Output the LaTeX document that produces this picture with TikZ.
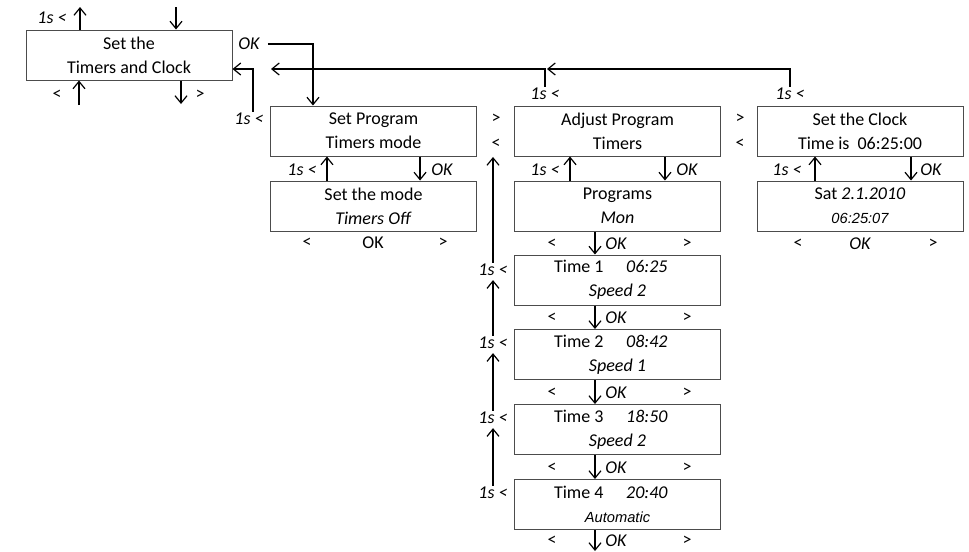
\documentclass[tikz,border=0pt]{standalone}
\usepackage{fontspec}
\setmainfont{Carlito}
\newfontfamily\arialfont{Liberation Sans}
\usetikzlibrary{arrows.meta, calc}

\tikzset{
	screen/.style = {draw=black!70, line width=0.75pt, minimum width=154.5pt, minimum height=37.5pt, inner sep=0pt, align=center, font=\fontsize{13.5}{18}\selectfont},
	btn/.style = {inner sep=1pt, font=\fontsize{13.5}{16}\selectfont},
	ibtn/.style = {inner sep=1pt, font=\fontsize{13.5}{16}\selectfont\itshape},
	arr/.style = {-{Straight Barb[length=5.5pt,width=9pt]}, line width=0.9pt},
}
\newcommand{\smallit}[1]{{\arialfont\itshape\fontsize{11}{18}\selectfont #1}}

\begin{document}
\begin{tikzpicture}[x=0.75pt, y=-0.75pt]
	\useasboundingbox (0,0) rectangle (969,551);

	\node[screen] (set) at (129,55) {Set the\\Timers and Clock};
	\node[screen] (prog) at (373.5,131) {Set Program\\Timers mode};
	\node[screen] (mode) at (373.5,206) {Set the mode\\\textit{Timers Off}};
	\node[screen] (adj) at (617.5,131) {Adjust Program\\Timers};
	\node[screen] (progs) at (617.5,206) {Programs\\\textit{Mon}};
	\node[screen] (t1) at (617.5,280) {Time 1\hspace{17pt}\textit{06:25}\hspace*{10pt}\\\textit{Speed 2}};
	\node[screen] (t2) at (617.5,354.5) {Time 2\hspace{17pt}\textit{08:42}\hspace*{10pt}\\\textit{Speed 1}};
	\node[screen] (t3) at (617.5,429.5) {Time 3\hspace{17pt}\textit{18:50}\hspace*{10pt}\\\textit{Speed 2}};
	\node[screen] (t4) at (617.5,504.5) {Time 4\hspace{17pt}\textit{20:40}\hspace*{10pt}\\\smallit{Automatic}};
	\node[screen] (clock) at (860,131) {Set the Clock\\Time is\ \ 06:25:00};
	\node[screen] (date) at (860,206) {Sat \textit{2.1.2010}\\\smallit{06:25:07}};

	\node[ibtn] (s0) at (52,18) {1s <};
	\node[btn] (l0) at (57,95) {<};
	\node[btn] (g0) at (200,95) {>};
	\node[ibtn] (ok0) at (249,44) {OK};
	\node[ibtn] (sp) at (249,119) {1s <};
	\node[ibtn] (sa) at (545,94) {1s <};
	\node[ibtn] (sc) at (790,94) {1s <};

	\node[btn] (g1) at (496,119) {>};
	\node[btn] (l1) at (496,144) {<};
	\node[btn] (g2) at (740,119) {>};
	\node[btn] (l2) at (740,144) {<};

	\node[ibtn] (sm) at (302,170) {1s <};
	\node[ibtn] (okm) at (442,170) {OK};
	\node[btn] (lm) at (307,243) {<};
	\node[btn] (okb) at (373,243) {OK};
	\node[btn] (gm) at (443,243) {>};

	\node[ibtn] (sg) at (545,170) {1s <};
	\node[ibtn] (okg) at (687,170) {OK};
	\node[btn] (lp) at (552,244) {<};
	\node[ibtn] (okp) at (616,244) {OK};
	\node[btn] (gp) at (687,244) {>};

	\node[ibtn] (s1) at (493,270) {1s <};
	\node[btn] (lt1) at (552,318) {<};
	\node[ibtn] (okt1) at (616,318) {OK};
	\node[btn] (gt1) at (687,318) {>};
	\node[ibtn] (s2) at (493,343) {1s <};
	\node[btn] (lt2) at (552,393) {<};
	\node[ibtn] (okt2) at (616,393) {OK};
	\node[btn] (gt2) at (687,393) {>};
	\node[ibtn] (s3) at (493,418) {1s <};
	\node[btn] (lt3) at (552,468) {<};
	\node[ibtn] (okt3) at (616,468) {OK};
	\node[btn] (gt3) at (687,468) {>};
	\node[ibtn] (s4) at (493,493) {1s <};
	\node[btn] (lt4) at (552,541) {<};
	\node[ibtn] (okt4) at (616,541) {OK};
	\node[btn] (gt4) at (687,541) {>};

	\node[ibtn] (sk) at (787,170) {1s <};
	\node[ibtn] (okk) at (931,170) {OK};
	\node[btn] (lk) at (798,244) {<};
	\node[ibtn] (okd) at (860,244) {OK};
	\node[btn] (gk) at (933,244) {>};

	\coordinate (u0) at (80,7);
	\coordinate (d0) at (176,7);
	\coordinate (u1) at (79,105);
	\coordinate (d1) at (181,104);
	\coordinate (j) at (547,69);
	\coordinate (e) at (271,69);
	\coordinate (d2) at (595,551);

	\draw[arr] (set.north -| u0) -- (u0);
	\draw[arr] (d0) -- (set.north -| d0);
	\draw[arr] (u1) -- (set.south -| u1);
	\draw[arr] (set.south -| d1) -- (d1);
	\draw[arr] ([xshift=5pt]ok0.east) -| ([xshift=-45.4pt]prog.north);
	\draw[arr] ([xshift=3pt]sp.north) |- ([yshift=-10.5pt]set.east);
	\draw[arr] (sc.north) |- (j);
	\draw[arr] (sa.north) |- (e);

	\draw[arr] ([xshift=-34.9pt]mode.north) -- ([xshift=-34.9pt]prog.south);
	\draw[arr] ([xshift=34.9pt]prog.south) -- ([xshift=34.9pt]mode.north);
	\draw[arr] ([xshift=-35.6pt]progs.north) -- ([xshift=-35.6pt]adj.south);
	\draw[arr] ([xshift=35.6pt]adj.south) -- ([xshift=35.6pt]progs.north);
	\draw[arr] ([xshift=-33.75pt]date.north) -- ([xshift=-33.75pt]clock.south);
	\draw[arr] ([xshift=38.25pt]clock.south) -- ([xshift=38.25pt]date.north);

	\draw[arr] ([xshift=-16.9pt]progs.south) -- ([xshift=-16.9pt]t1.north);
	\draw[arr] ([xshift=-16.9pt]t1.south) -- ([xshift=-16.9pt]t2.north);
	\draw[arr] ([xshift=-16.9pt]t2.south) -- ([xshift=-16.9pt]t3.north);
	\draw[arr] ([xshift=-16.9pt]t3.south) -- ([xshift=-16.9pt]t4.north);
	\draw[arr] (t4.south -| d2) -- (d2);

	\draw[arr, shorten >=5pt] (s1.north) -- (s1.north |- l1.south);
	\draw[arr, shorten >=2pt] (s2.north) -- (s2.north |- s1.south);
	\draw[arr, shorten >=2pt] (s3.north) -- (s3.north |- s2.south);
	\draw[arr, shorten >=2pt] (s4.north) -- (s4.north |- s3.south);
\end{tikzpicture}
\end{document}
